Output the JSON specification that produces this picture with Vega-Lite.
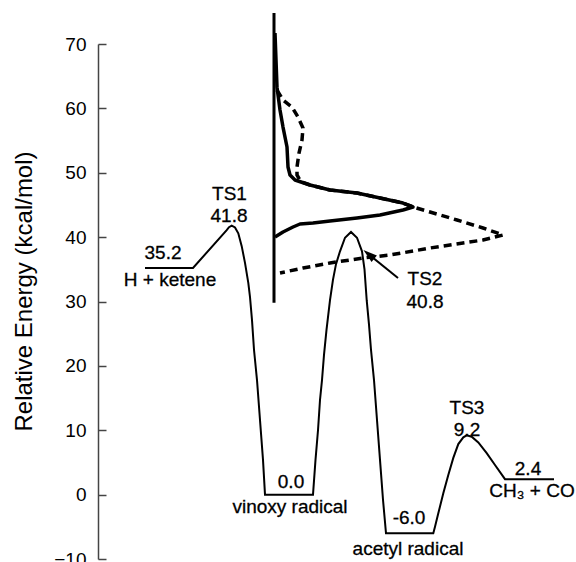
{
  "$schema": "https://vega.github.io/schema/vega-lite/v6.json",
  "width": 478,
  "height": 515,
  "autosize": {"type": "none"},
  "padding": {"left": 98, "top": 44, "right": 0, "bottom": 3},
  "background": "white",
  "config": {
    "view": {"stroke": null},
    "font": "Liberation Sans",
    "text": {"font": "Liberation Sans", "fontSize": 19, "color": "black"}
  },
  "datasets": {
    "profile": [
      {"x": 47, "E": 35.2}, {"x": 95, "E": 35.2}, {"x": 128.7, "E": 41.1}, {"x": 131, "E": 41.55},
      {"x": 133.7, "E": 41.8}, {"x": 137, "E": 41.5}, {"x": 140.3, "E": 40.6}, {"x": 143.7, "E": 38.6},
      {"x": 147, "E": 36.0}, {"x": 150.3, "E": 32.9}, {"x": 152, "E": 30.7}, {"x": 154, "E": 27.1},
      {"x": 156, "E": 22.5}, {"x": 159, "E": 17.8}, {"x": 162, "E": 11.6}, {"x": 165, "E": 5.4},
      {"x": 167, "E": 0.0}, {"x": 215, "E": 0.0}, {"x": 217.5, "E": 5.4}, {"x": 220, "E": 10.0},
      {"x": 222, "E": 14.7}, {"x": 224, "E": 17.8}, {"x": 226, "E": 21.7}, {"x": 228.5, "E": 25.6},
      {"x": 232, "E": 30.2}, {"x": 235, "E": 33.4}, {"x": 238, "E": 35.8}, {"x": 242, "E": 37.8},
      {"x": 247, "E": 39.9}, {"x": 253, "E": 40.8}, {"x": 259, "E": 39.9}, {"x": 264, "E": 37.8},
      {"x": 266.5, "E": 35.0}, {"x": 268.7, "E": 30.2}, {"x": 271, "E": 26.4}, {"x": 273, "E": 22.5},
      {"x": 276, "E": 17.8}, {"x": 279, "E": 11.6}, {"x": 282, "E": 5.4}, {"x": 285, "E": -0.8},
      {"x": 288, "E": -6.0}, {"x": 335.3, "E": -6.0}, {"x": 337, "E": -5.0}, {"x": 340.3, "E": -2.9},
      {"x": 345.3, "E": 0.2}, {"x": 350.3, "E": 3.05}, {"x": 355.3, "E": 5.7}, {"x": 360.3, "E": 7.85},
      {"x": 365.3, "E": 8.9}, {"x": 368.7, "E": 9.2}, {"x": 373.7, "E": 9.0}, {"x": 380.3, "E": 8.1},
      {"x": 388.7, "E": 6.45}, {"x": 397, "E": 4.6}, {"x": 407, "E": 2.4}, {"x": 456, "E": 2.4}
    ],
    "solid": [
      {"i": 1, "x": 177, "E": 71.7}, {"i": 2, "x": 179, "E": 63.3}, {"i": 3, "x": 182, "E": 59.75},
      {"i": 4, "x": 185, "E": 57.1}, {"i": 5, "x": 189, "E": 54.0}, {"i": 6, "x": 190, "E": 50.9},
      {"i": 7, "x": 192, "E": 49.65}, {"i": 8, "x": 197, "E": 48.87}, {"i": 9, "x": 212, "E": 48.1},
      {"i": 10, "x": 232, "E": 47.32}, {"i": 11, "x": 259, "E": 46.85}, {"i": 12, "x": 282, "E": 46.08},
      {"i": 13, "x": 305, "E": 45.3}, {"i": 14, "x": 315, "E": 44.68}, {"i": 15, "x": 305, "E": 44.21},
      {"i": 16, "x": 282, "E": 43.44}, {"i": 17, "x": 259, "E": 42.97}, {"i": 18, "x": 232, "E": 42.5},
      {"i": 19, "x": 215, "E": 42.19}, {"i": 20, "x": 202, "E": 42.04}, {"i": 21, "x": 195, "E": 41.57},
      {"i": 22, "x": 185, "E": 40.8}, {"i": 23, "x": 177, "E": 40.02}
    ],
    "dashed": [
      {"i": 1, "x": 179, "E": 62.85}, {"i": 2, "x": 185, "E": 61.3}, {"i": 3, "x": 194, "E": 60.21},
      {"i": 4, "x": 200, "E": 58.66}, {"i": 5, "x": 205, "E": 56.95}, {"i": 6, "x": 204, "E": 55.09},
      {"i": 7, "x": 201, "E": 53.07}, {"i": 8, "x": 199, "E": 50.89}, {"i": 9, "x": 199, "E": 49.65},
      {"i": 10, "x": 203, "E": 48.6}, {"i": 11, "x": 212, "E": 48.1}, {"i": 12, "x": 232, "E": 47.32},
      {"i": 13, "x": 259, "E": 46.85}, {"i": 14, "x": 282, "E": 46.08}, {"i": 15, "x": 305, "E": 45.3},
      {"i": 16, "x": 315, "E": 44.68}, {"i": 17, "x": 332, "E": 43.9}, {"i": 18, "x": 359, "E": 42.66},
      {"i": 19, "x": 385, "E": 41.42}, {"i": 20, "x": 405, "E": 40.33}, {"i": 21, "x": 385, "E": 39.55},
      {"i": 22, "x": 365, "E": 39.09}, {"i": 23, "x": 332, "E": 38.31}, {"i": 24, "x": 292, "E": 37.22},
      {"i": 25, "x": 265, "E": 36.76}, {"i": 26, "x": 232, "E": 35.98}, {"i": 27, "x": 205, "E": 35.2},
      {"i": 28, "x": 182, "E": 34.43}
    ],
    "labels": [
      {"x": 65, "E": 37.46, "label": "35.2"},
      {"x": 72, "E": 33.34, "label": "H + ketene"},
      {"x": 131.5, "E": 46.7, "label": "TS1"},
      {"x": 131, "E": 43.3, "label": "41.8"},
      {"x": 327, "E": 33.5, "label": "TS2"},
      {"x": 327, "E": 30.0, "label": "40.8"},
      {"x": 193, "E": 1.96, "label": "0.0"},
      {"x": 192, "E": -1.92, "label": "vinoxy radical"},
      {"x": 311, "E": -3.63, "label": "-6.0"},
      {"x": 310, "E": -8.45, "label": "acetyl radical"},
      {"x": 369, "E": 13.5, "label": "TS3"},
      {"x": 369, "E": 10.1, "label": "9.2"},
      {"x": 430, "E": 3.98, "label": "2.4"},
      {"x": 434, "E": 0.56, "label": "CH₃ + CO"}
    ]
  },
  "encoding": {
    "x": {"field": "x", "type": "quantitative", "scale": {"domain": [0, 478], "nice": false, "zero": false}, "axis": null},
    "y": {
      "field": "E", "type": "quantitative",
      "scale": {"domain": [-10, 70], "nice": false, "zero": false},
      "axis": {
        "title": "Relative Energy (kcal/mol)",
        "values": [-10, 0, 10, 20, 30, 40, 50, 60, 70],
        "grid": false,
        "domainColor": "#444",
        "domainWidth": 1.5,
        "tickColor": "#444",
        "tickWidth": 1.5,
        "tickSize": -8,
        "labelPadding": 20,
        "labelFont": "Liberation Sans",
        "labelFontSize": 19,
        "labelColor": "black",
        "labelBaseline": "middle",
        "titleFont": "Liberation Sans",
        "titleFontSize": 24,
        "titleFontWeight": "normal",
        "titleColor": "black",
        "titleBaseline": "middle",
        "titleX": -74,
        "titleY": 247
      }
    }
  },
  "layer": [
    {
      "data": {"name": "profile"},
      "mark": {"type": "line", "color": "black", "strokeWidth": 2},
      "encoding": {"order": {"field": "x", "type": "quantitative"}}
    },
    {
      "data": {"values": [{"x": 176, "E": 74.8, "E2": 29.8}]},
      "mark": {"type": "rule", "color": "black", "strokeWidth": 3},
      "encoding": {"y2": {"field": "E2"}}
    },
    {
      "data": {"name": "solid"},
      "mark": {"type": "line", "color": "black", "strokeWidth": 3.5, "strokeJoin": "round"},
      "encoding": {"order": {"field": "i", "type": "quantitative"}}
    },
    {
      "data": {"name": "dashed"},
      "mark": {"type": "line", "color": "black", "strokeWidth": 3.5, "strokeDash": [8, 5]},
      "encoding": {"order": {"field": "i", "type": "quantitative"}}
    },
    {
      "data": {"values": [{"x": 300, "E": 33.65, "x2": 270.8, "E2": 37.32}]},
      "mark": {"type": "rule", "color": "black", "strokeWidth": 2},
      "encoding": {"x2": {"field": "x2"}, "y2": {"field": "E2"}}
    },
    {
      "data": {"values": [{"x": 270.8, "E": 37.32}]},
      "mark": {"type": "point", "shape": "M0,-1L0.6,1L-0.6,1Z", "filled": true, "color": "black", "opacity": 1, "size": 196, "angle": 309}
    },
    {
      "data": {"name": "labels"},
      "mark": {"type": "text", "align": "center", "baseline": "middle", "fontSize": 19, "font": "Liberation Sans", "color": "black", "stroke": "black", "strokeWidth": 0.3},
      "encoding": {"text": {"field": "label"}}
    }
  ]
}
